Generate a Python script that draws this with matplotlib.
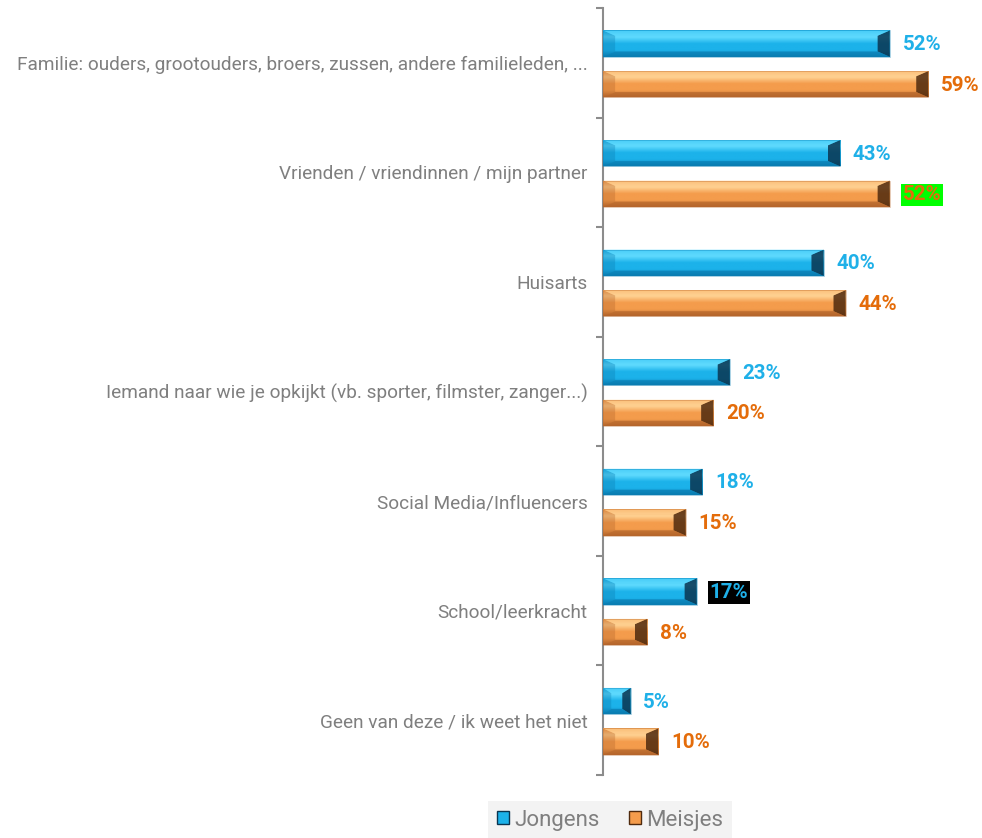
import matplotlib
matplotlib.use("Agg")
import matplotlib.pyplot as plt
from matplotlib.patches import Patch, Polygon
import numpy as np

plt.rcParams['font.family'] = ['Roboto', 'DejaVu Sans']

# 数据
categories = [
    "Familie: ouders, grootouders, broers, zussen, andere familieleden, ...",
    "Vrienden / vriendinnen / mijn partner",
    "Huisarts",
    "Iemand naar wie je opkijkt (vb. sporter, filmster, zanger...)",
    "Social Media/Influencers",
    "School/leerkracht",
    "Geen van deze / ik weet het niet",
]
jongens = [52, 43, 40, 23, 18, 17, 5]
meisjes = [59, 52, 44, 20, 15, 8, 10]
series_names = ["Jongens", "Meisjes"]

BLUE = dict(light="#62dcff", base="#1cb2ea", dark="#0a7db2", end="#0a3550", text="#1fb0e8")
ORANGE = dict(light="#ffd394", base="#f49c4c", dark="#b5662c", end="#4f2a0e", text="#e46c0a")


def bevel_bar(ax, patch, c):
    """给条形加上斜面效果"""
    x0, y0 = patch.get_x(), patch.get_y()
    w, h = patch.get_width(), patch.get_height()
    y1, x1 = y0 + h, x0 + w
    # 竖直渐变
    grad = np.linspace(0, 1, 64).reshape(-1, 1)
    cmap = matplotlib.colors.LinearSegmentedColormap.from_list(
        "g", [c["dark"], c["base"], c["base"], c["light"], c["base"]])
    im = ax.imshow(grad, extent=(x0, x1, y0, y1), cmap=cmap, aspect="auto",
                   origin="upper", zorder=3)
    im.set_clip_path(patch)
    # 斜边尺寸（数据单位）
    bx = min(2.2, w * 0.3)
    by = h * 0.2
    top, bot = min(y0, y1), max(y0, y1)  # y 轴翻转：top 是较小值
    # 右端
    ax.add_patch(Polygon([(x1, top), (x1 - bx, top + by), (x1 - bx, bot - by), (x1, bot)],
                         closed=True, fc=c["end"], ec="none", alpha=0.85, zorder=4))
    # 左端
    ax.add_patch(Polygon([(x0, top), (x0 + bx, top + by), (x0 + bx, bot - by), (x0, bot)],
                         closed=True, fc=c["dark"], ec="none", alpha=0.35, zorder=4))
    # 上沿
    ax.add_patch(Polygon([(x0, top), (x1, top), (x1 - bx, top + by), (x0 + bx, top + by)],
                         closed=True, fc=c["light"], ec="none", alpha=0.6, zorder=4))
    # 下沿
    ax.add_patch(Polygon([(x0, bot), (x1, bot), (x1 - bx, bot - by), (x0 + bx, bot - by)],
                         closed=True, fc=c["dark"], ec="none", alpha=0.7, zorder=4))
    ax.add_patch(plt.Rectangle((x0, y0), w, h, fill=False, ec=c["dark"], lw=0.6, alpha=0.4, zorder=5))


fig = plt.figure(figsize=(9.82, 8.38), dpi=100)
ax = fig.add_axes([603 / 982, 1 - 775 / 838, 375 / 982, (775 - 8) / 838])

y = np.arange(len(categories))
h = 0.24
bars_j = ax.barh(y - 0.175, jongens, height=h, color=BLUE["base"], zorder=2)
bars_m = ax.barh(y + 0.195, meisjes, height=h, color=ORANGE["base"], zorder=2)

ax.set_xlim(0, 68)
ax.set_ylim(len(categories) - 0.5, -0.5)

for bars, vals, c in [(bars_j, jongens, BLUE), (bars_m, meisjes, ORANGE)]:
    for i, (b, v) in enumerate(zip(bars, vals)):
        bevel_bar(ax, b, c)
        box = None
        if c is ORANGE and i == 1:
            box = dict(boxstyle="square,pad=0.08", fc="#00ff00", ec="none")
        if c is BLUE and i == 5:
            box = dict(boxstyle="square,pad=0.08", fc="black", ec="none")
        ax.text(v + 2.3, b.get_y() + b.get_height() / 2 + 0.01, f"{v}%", ha="left", va="center",
                fontsize=14.8, fontweight="bold", color=c["text"], bbox=box, zorder=6)

# 坐标轴
for s in ["top", "right", "bottom"]:
    ax.spines[s].set_visible(False)
ax.spines["left"].set_color("#8c8c8c")
ax.spines["left"].set_linewidth(1.5)
ax.set_xticks([])
ax.set_yticks(y)
ax.set_yticklabels(categories, fontsize=13.7, color="#7f7f7f")
ax.tick_params(axis="y", which="major", length=0, pad=11)
ax.set_yticks(np.arange(-0.5, len(categories), 1), minor=True)
ax.tick_params(axis="y", which="minor", length=5, width=1.5, color="#8c8c8c")

handles = [Patch(facecolor=BLUE["base"], edgecolor=BLUE["end"]),
           Patch(facecolor=ORANGE["base"], edgecolor=ORANGE["end"])]
leg = fig.legend(handles, series_names, loc="center", bbox_to_anchor=(610 / 982, 1 - 820 / 838),
                 ncol=2, frameon=True, fontsize=16, handlelength=0.55, handleheight=0.55,
                 handletextpad=0.25, columnspacing=1.3, borderpad=0.4, fancybox=False)
leg.get_frame().set_facecolor("#f0f0f0")
leg.get_frame().set_edgecolor("none")
for t in leg.get_texts():
    t.set_color("#7f7f7f")

fig.savefig("out.png", dpi=100)
